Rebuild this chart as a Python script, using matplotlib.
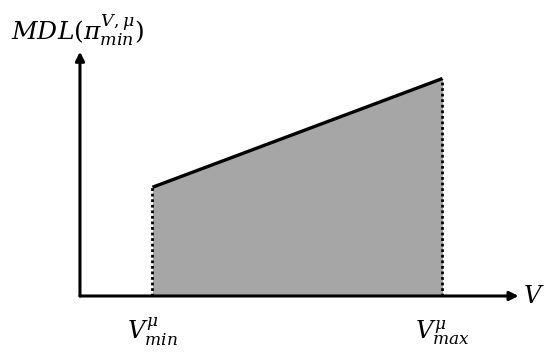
import matplotlib
matplotlib.use("Agg")
import matplotlib.pyplot as plt

# math text in an italic serif, close to the Cambria Math look
plt.rcParams['mathtext.fontset'] = 'dejavuserif'

# data (abstract units)
v_bounds = [1.0, 5.0]        # V_min^mu, V_max^mu
mdl_values = [1.5, 3.0]      # MDL at the two bounds
axis_end = [6.05, 3.37]      # arrow tips of x and y axis
tick_labels = [r'$V^{\mu}_{min}$', r'$V^{\mu}_{max}$']

fig = plt.figure(figsize=(5.5, 3.6), dpi=100)
ax = fig.add_axes([0, 0, 1, 1])
ax.set_xlim(-1.103, 6.483)
ax.set_ylim(-0.883, 4.083)
ax.axis('off')

# shaded region under the line
ax.fill_between(v_bounds, [0, 0], mdl_values, color='#a6a6a6', lw=0)
ax.plot(v_bounds, mdl_values, color='black', lw=2.4, solid_capstyle='butt')
for v, m in zip(v_bounds, mdl_values):
    ax.plot([v, v], [0, m], color='black', lw=2.0, linestyle=(0, (1, 1)))

# axes with arrow heads
arrow = dict(arrowstyle='-|>', color='black', lw=2.2, mutation_scale=13, shrinkA=0, shrinkB=0)
ax.annotate('', xy=(axis_end[0], 0), xytext=(0, 0), arrowprops=arrow)
ax.annotate('', xy=(0, axis_end[1]), xytext=(0, 0), arrowprops=arrow)

# labels
ax.text(axis_end[0] + 0.06, 0.0, r'$V$', fontsize=17.5, ha='left', va='center')
ax.text(-0.95, 3.67, r'$MDL(\pi^{V,\mu}_{min})$', fontsize=18, ha='left', va='center')
for v, lab in zip(v_bounds, tick_labels):
    ax.text(v, -0.5, lab, fontsize=17.5, ha='center', va='center')

fig.savefig('out.png', dpi=100)
